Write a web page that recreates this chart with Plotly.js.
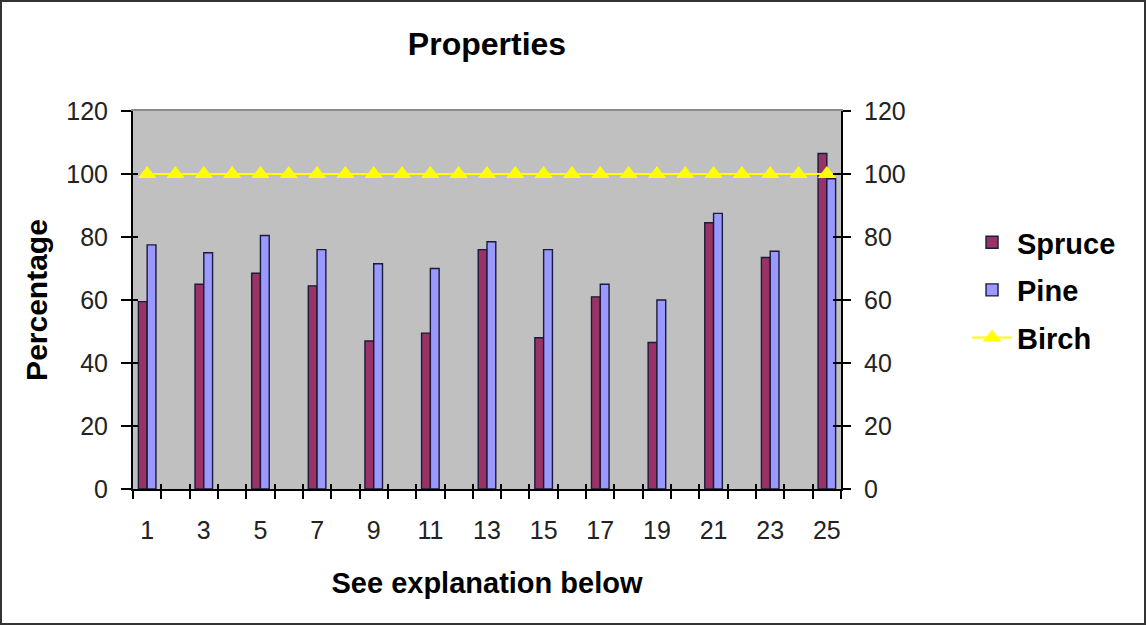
<!DOCTYPE html>
<html>
<head>
<meta charset="utf-8">
<script src="https://cdn.plot.ly/plotly-3.0.1.min.js"></script>
<style>
  html, body { margin: 0; padding: 0; background: #fff; }
  #wrap { position: relative; width: 1146px; height: 625px; }
  #chart { width: 1146px; height: 625px; }
  #frame { position: absolute; left: 0; top: 0; width: 1146px; height: 625px; box-sizing: border-box; border: 2px solid #333; pointer-events: none; }
</style>
</head>
<body>
<div id="wrap"><div id="chart"></div><div id="frame"></div></div>
<script>
// ---- data ----
const categories = [1,2,3,4,5,6,7,8,9,10,11,12,13,14,15,16,17,18,19,20,21,22,23,24,25];
const spruce = [59.5,null,65,null,68.5,null,64.5,null,47,null,49.5,null,76,null,48,null,61,null,46.5,null,84.5,null,73.5,null,106.5];
const pine   = [77.5,null,75,null,80.5,null,76,null,71.5,null,70,null,78.5,null,76,null,65,null,60,null,87.5,null,75.5,null,98.5];
const birch  = [100,100,100,100,100,100,100,100,100,100,100,100,100,100,100,100,100,100,100,100,100,100,100,100,100];
const tickLabels = ["1","3","5","7","9","11","13","15","17","19","21","23","25"];
const tickPositions = [1,3,5,7,9,11,13,15,17,19,21,23,25];
const yTicks = [0,20,40,60,80,100,120];

const FONT = "Liberation Sans, Arial, sans-serif";
const xRange = [categories[0]-0.5, categories[categories.length-1]+0.5];
const boundaries = categories.map(c => c-0.5).concat([categories[categories.length-1]+0.5]);
const yRange = [0,120];

function helper(xa, ya) {
  return {type:'scatter', mode:'markers', x:[], y:[], xaxis:xa, yaxis:ya, showlegend:false, hoverinfo:'skip'};
}

const traces = [
  {type:'bar', name:'Spruce', x:categories, y:spruce, legendgroup:'a',
   marker:{color:'#993366', line:{color:'#1a1a3a', width:1.4}}},
  {type:'bar', name:'Pine', x:categories, y:pine, legendgroup:'b',
   marker:{color:'#9999FF', line:{color:'#1a1a3a', width:1.4}}},
  {type:'scatter', mode:'lines+markers', name:'Birch', x:categories, y:birch, legendgroup:'c',
   line:{color:'#FFFF00', width:2},
   marker:{symbol:'triangle-up', size:16, color:'#FFFF00'}},
  helper('x2','y'), helper('x3','y'), helper('x4','y'),
  helper('x','y2'), helper('x','y3'), helper('x','y4')
];

const layout = {
  width:1146, height:625,
  margin:{l:133, r:305, t:111, b:136},
  paper_bgcolor:'#ffffff', plot_bgcolor:'#C0C0C0',
  font:{family:FONT, color:'#111', size:24},
  barmode:'group', bargap:0.38, bargroupgap:0,
  title:{text:'<b>Properties</b>', font:{family:FONT, size:32, color:'#000'},
         xref:'paper', x:0.5, xanchor:'center', yref:'container', y:0.93, yanchor:'middle'},
  showlegend:true,
  legend:{x:1.178, xanchor:'left', y:0.72, yanchor:'top', bgcolor:'rgba(0,0,0,0)',
          font:{family:FONT, size:29, color:'#000', weight:'bold'}, tracegroupgap:7, itemwidth:40},
  xaxis:{range:xRange, tickvals:tickPositions, ticktext:tickLabels, ticks:'', showgrid:false,
         zeroline:false, showline:true, linecolor:'#000', linewidth:2, ticklabelstandoff:18,
         tickfont:{size:25, color:'#222'},
         title:{text:'<b>See explanation below</b>', font:{size:29, color:'#000'}, standoff:30}},
  xaxis2:{overlaying:'x', anchor:'y', side:'bottom', range:xRange, tickvals:boundaries, ticks:'outside',
          ticklen:9, tickwidth:2, tickcolor:'#000', showticklabels:false, showgrid:false, zeroline:false, showline:false},
  xaxis3:{overlaying:'x', anchor:'y', side:'bottom', range:xRange, tickvals:boundaries, ticks:'inside',
          ticklen:5, tickwidth:2, tickcolor:'#000', showticklabels:false, showgrid:false, zeroline:false, showline:false},
  xaxis4:{overlaying:'x', anchor:'y', side:'top', range:xRange, ticks:'', showticklabels:false,
          showgrid:false, zeroline:false, showline:true, linecolor:'#8a8a8a', linewidth:2},
  yaxis:{range:yRange, tickvals:yTicks, ticks:'outside', ticklen:10, tickwidth:2, tickcolor:'#000',
         showgrid:false, zeroline:false, showline:true, linecolor:'#000', linewidth:2,
         tickfont:{size:25, color:'#222'}, ticklabelstandoff:8,
         title:{text:'<b>Percentage</b>', font:{size:30, color:'#000'}, standoff:10}},
  yaxis2:{overlaying:'y', side:'right', anchor:'x', range:yRange, tickvals:yTicks, ticks:'outside', ticklen:8, tickwidth:2,
          tickcolor:'#000', showgrid:false, zeroline:false, showline:true, linecolor:'#000', linewidth:2,
          tickfont:{size:25, color:'#222'}, ticklabelstandoff:8},
  yaxis3:{overlaying:'y', side:'left', anchor:'x', range:yRange, tickvals:yTicks, ticks:'inside', ticklen:5, tickwidth:2,
          tickcolor:'#000', showticklabels:false, showgrid:false, zeroline:false, showline:false},
  yaxis4:{overlaying:'y', side:'right', anchor:'x', range:yRange, tickvals:yTicks, ticks:'inside', ticklen:8, tickwidth:2,
          tickcolor:'#000', showticklabels:false, showgrid:false, zeroline:false, showline:false}
};

Plotly.newPlot('chart', traces, layout, {displayModeBar:false, staticPlot:true});
</script>
</body>
</html>
